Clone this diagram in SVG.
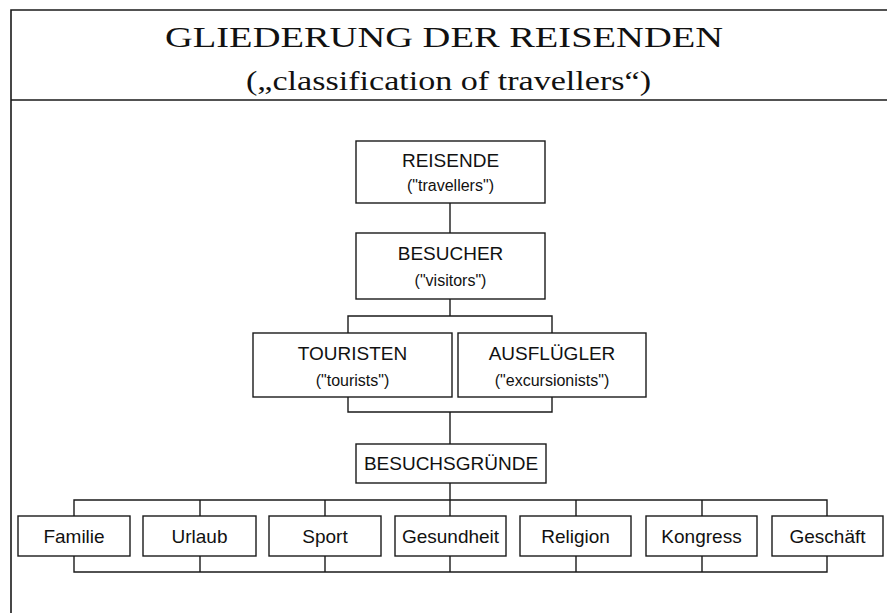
<svg xmlns="http://www.w3.org/2000/svg" width="887" height="613" viewBox="0 0 887 613">
<style>
.bg{fill:#ffffff}
.frame{fill:none;stroke:#1a1a1a;stroke-width:1.6}
.box{fill:#ffffff;stroke:#1a1a1a;stroke-width:1.4}
.conn{fill:none;stroke:#1a1a1a;stroke-width:1.4}
.title{font-family:"Liberation Serif","DejaVu Serif",serif;fill:#111;text-anchor:middle}
.lbl{font-family:"Liberation Sans",Arial,sans-serif;font-size:19px;fill:#111;text-anchor:middle}
.sub{font-family:"Liberation Sans",Arial,sans-serif;font-size:16px;fill:#111;text-anchor:middle}
</style>
<rect class="bg" x="0" y="0" width="887" height="613"/>
<g id="frame">
<path class="frame" d="M11,613 V10 H887 M11,100 H887"/>
<text class="title" x="444" y="47" font-size="30" textLength="558" lengthAdjust="spacingAndGlyphs">GLIEDERUNG DER REISENDEN</text>
<text class="title" x="448.5" y="90" font-size="27" textLength="405" lengthAdjust="spacingAndGlyphs">(„classification of travellers“)</text>
</g>
<g id="connectors">
<path class="conn" d="M450,203 V233"/>
<path class="conn" d="M450,299 V316 M348,333 V316 H552 V333"/>
<path class="conn" d="M348,397 V412 H552 V397 M450,412 V444"/>
<path class="conn" d="M450,483 V516"/>
<path class="conn" d="M74,516 V500 H827 V516 M200,500 V516 M325,500 V516 M576,500 V516 M702,500 V516"/>
<path class="conn" d="M74,556 V572 H827 V556 M200,556 V572 M325,556 V572 M450,556 V572 M576,556 V572 M702,556 V572"/>
</g>
<g id="reisende">
<rect class="box" x="356" y="141" width="189" height="62"/>
<text class="lbl" x="450.5" y="167">REISENDE</text>
<text class="sub" x="450.5" y="191">("travellers")</text>
</g>
<g id="besucher">
<rect class="box" x="356" y="233" width="189" height="66"/>
<text class="lbl" x="450.5" y="260">BESUCHER</text>
<text class="sub" x="450.5" y="286">("visitors")</text>
</g>
<g id="touristen">
<rect class="box" x="253" y="333" width="199" height="64"/>
<text class="lbl" x="352.5" y="360">TOURISTEN</text>
<text class="sub" x="352.5" y="386">("tourists")</text>
</g>
<g id="ausfluegler">
<rect class="box" x="458" y="333" width="188" height="64"/>
<text class="lbl" x="552" y="360">AUSFLÜGLER</text>
<text class="sub" x="552" y="386">("excursionists")</text>
</g>
<g id="besuchsgruende">
<rect class="box" x="356" y="444" width="190" height="39"/>
<text class="lbl" x="451" y="470">BESUCHSGRÜNDE</text>
</g>
<g id="familie">
<rect class="box" x="18" y="516" width="112" height="40"/>
<text class="lbl" x="74" y="543">Familie</text>
</g>
<g id="urlaub">
<rect class="box" x="143" y="516" width="113" height="40"/>
<text class="lbl" x="199.5" y="543">Urlaub</text>
</g>
<g id="sport">
<rect class="box" x="269" y="516" width="112" height="40"/>
<text class="lbl" x="325" y="543">Sport</text>
</g>
<g id="gesundheit">
<rect class="box" x="395" y="516" width="111" height="40"/>
<text class="lbl" x="450.5" y="543">Gesundheit</text>
</g>
<g id="religion">
<rect class="box" x="520" y="516" width="111" height="40"/>
<text class="lbl" x="575.5" y="543">Religion</text>
</g>
<g id="kongress">
<rect class="box" x="646" y="516" width="111" height="40"/>
<text class="lbl" x="701.5" y="543">Kongress</text>
</g>
<g id="geschaeft">
<rect class="box" x="772" y="516" width="111" height="40"/>
<text class="lbl" x="827.5" y="543">Geschäft</text>
</g>
</svg>
